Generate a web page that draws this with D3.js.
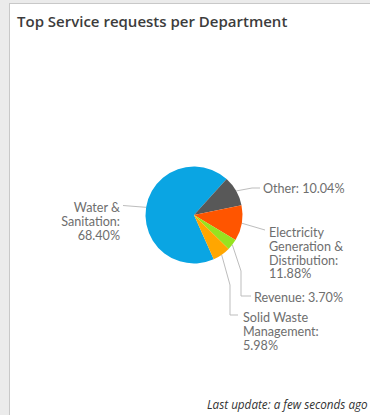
<!DOCTYPE html>
<html>
<head>
<meta charset="utf-8">
<script src="https://cdn.jsdelivr.net/npm/d3@7"></script>
<style>
  html, body { margin: 0; padding: 0; background: #ebebeb; }
  svg { display: block; }
</style>
</head>
<body>
<svg id="chart" width="370" height="415"></svg>
<script>
// ---- data ----
const categories = ["Water & Sanitation", "Other", "Electricity Generation & Distribution", "Revenue", "Solid Waste Management"];
const values = [68.40, 10.04, 11.88, 3.70, 5.98];
const colors = ["#0aa5e3", "#585858", "#ff5500", "#97e31f", "#ffa600"];
const labelLines = [
  ["Water &", "Sanitation:", "68.40%"],
  ["Other: 10.04%"],
  ["Electricity", "Generation &", "Distribution:", "11.88%"],
  ["Revenue: 3.70%"],
  ["Solid Waste", "Management:", "5.98%"]
];
const titleText = "Top Service requests per Department";
const footerText = "Last update: a few seconds ago";

// ---- layout ----
const svg = d3.select("#chart");
const W = 370, H = 415;
svg.append("rect").attr("x", 9.5).attr("y", 3.5).attr("width", W).attr("height", H)
  .attr("fill", "#fff").attr("stroke", "#c8c8c8");

svg.append("text").attr("x", 17).attr("y", 27)
  .attr("font-family", "'Open Sans', sans-serif").attr("font-weight", 600)
  .attr("font-size", 15).attr("fill", "#3c3c3c").text(titleText);

svg.append("text").attr("x", 207).attr("y", 409)
  .attr("font-family", "'Open Sans', sans-serif").attr("font-style", "italic")
  .attr("font-size", 11.7).attr("fill", "#333").text(footerText);

const cx = 194, cy = 215, R = 48.5;
const startDeg = 156;
const pie = d3.pie().sort(null).value(d => d)
  .startAngle(startDeg * Math.PI / 180)
  .endAngle((startDeg + 360) * Math.PI / 180);
const arcs = pie(values);
const arc = d3.arc().innerRadius(0).outerRadius(R);

const g = svg.append("g").attr("transform", `translate(${cx},${cy})`);
g.selectAll("path.slice").data(arcs).join("path")
  .attr("class", "slice")
  .attr("d", arc)
  .attr("fill", (d, i) => colors[i]);

// label layout relative to pie centre
const labelLayout = [
  { x: -74, y: -3, anchor: "end", path: [[-71, -9.5]] },
  { x: 69, y: -22, anchor: "start", path: [[58, -27], [66, -27]] },
  { x: 75, y: 22, anchor: "start", path: [[71, 15]] },
  { x: 60, y: 87, anchor: "start", path: [[47, 56], [47, 81], [57, 81]] },
  { x: 49, y: 107, anchor: "start", path: [[36, 70], [36, 100], [44, 100]] }
];
const lh = 13.8;
const pt = (a, r) => [Math.sin(a) * r, -Math.cos(a) * r];

arcs.forEach((d, i) => {
  const L = labelLayout[i];
  const mid = (d.startAngle + d.endAngle) / 2;
  const pts = [pt(mid, R)].concat(L.path);
  g.append("polyline")
    .attr("points", pts.map(p => p.join(",")).join(" "))
    .attr("fill", "none").attr("stroke", "#bdbdbd").attr("stroke-width", 1);
  const t = g.append("text")
    .attr("x", L.x).attr("y", L.y)
    .attr("text-anchor", L.anchor)
    .attr("font-family", "Lato, 'Noto Sans', sans-serif")
    .attr("font-size", 12.6).attr("fill", "#6e6e6e");
  labelLines[i].forEach((s, k) => {
    t.append("tspan").attr("x", L.x).attr("y", L.y + k * lh).text(s);
  });
});
</script>
</body>
</html>
